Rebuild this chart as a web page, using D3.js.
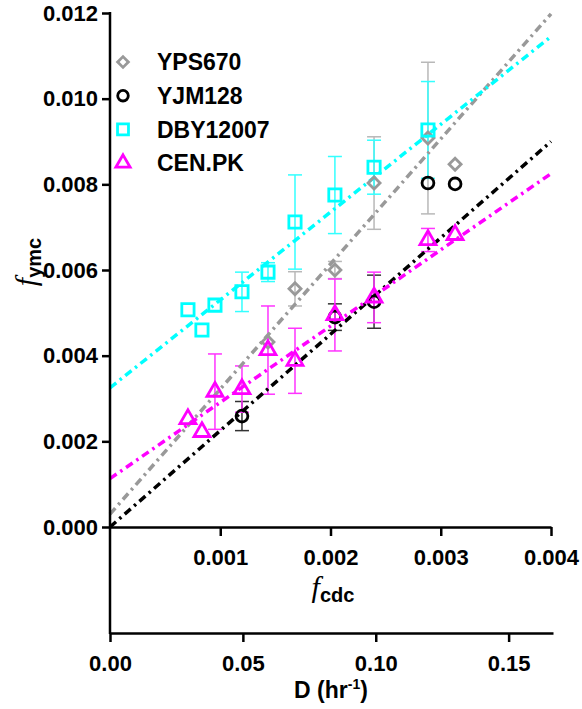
<!DOCTYPE html>
<html>
<head>
<meta charset="utf-8">
<script src="https://cdn.jsdelivr.net/npm/d3@7"></script>
<style>
  body { margin: 0; background: #fff; }
  svg text { font-family: "Liberation Sans", Arial, sans-serif; font-weight: bold; }
  .axis path, .axis line { stroke: #000; stroke-width: 2.5; }
  .axis text { font-size: 22px; fill: #000; }
</style>
</head>
<body>
<div class="chart"></div>
<script>
// f_cdc positions shared by the strains
var fcdc = [0.000707, 0.000834, 0.000952, 0.001197, 0.001433, 0.001678, 0.00204, 0.002395, 0.002884, 0.00313];

var yTicks = [0, 0.002, 0.004, 0.006, 0.008, 0.010, 0.012];
var fTicks = [0.001, 0.002, 0.003, 0.004];
var dTicks = [0, 0.05, 0.10, 0.15];

var names = ['YPS670', 'YJM128', 'DBY12007', 'CEN.PK'];

// YPS670 (grey diamonds)
var ypsX = [0.001433, 0.001678, 0.00204, 0.002395, 0.002884, 0.00313];
var ypsY = [0.00432, 0.00556, 0.0060, 0.00803, 0.00908, 0.00847];
var ypsErr = [0, 0.0004, 0.0002, 0.00108, 0.00177, 0];

// YJM128 (black circles)
var yjmX = [0.001197, 0.00204, 0.002395, 0.002884, 0.00313];
var yjmY = [0.00259, 0.0049, 0.00526, 0.00803, 0.00801];
var yjmErr = [0.00034, 0.00031, 0.00062, 0, 0];

// DBY12007 (cyan squares)
var dbyX = fcdc.slice(0, 9);
var dbyY = [0.00507, 0.0046, 0.00518, 0.00549, 0.00595, 0.00712, 0.00775, 0.0084, 0.00927];
var dbyErr = [0, 0, 0, 0.00046, 0.00022, 0.0011, 0.0009, 0.00063, 0.00113];

// CEN.PK (magenta triangles)
var cenX = fcdc;
var cenY = [0.00252, 0.00222, 0.00316, 0.00322, 0.00413, 0.00388, 0.00495, 0.00536, 0.0067, 0.00682];
var cenErr = [0, 0, 0.00088, 0.00054, 0.00103, 0.00076, 0.00084, 0.00059, 0.00027, 0];

// fitted lines: intercept, slope
var ypsFit = [0.0003, 2.92];
var yjmFit = [0, 2.25];
var dbyFit = [0.00325, 2.05];
var cenFit = [0.00113, 1.78];

var series = [
  { name: names[0], x: ypsX, y: ypsY, err: ypsErr, fit: ypsFit, color: '#999999', bar: '#b8b8b8', symbol: d3.symbolSquare, size: 72, rot: 45 },
  { name: names[1], x: yjmX, y: yjmY, err: yjmErr, fit: yjmFit, color: '#000000', bar: '#333333', symbol: d3.symbolCircle, size: 110, rot: 0 },
  { name: names[2], x: dbyX, y: dbyY, err: dbyErr, fit: dbyFit, color: '#00ffff', bar: '#33ffff', symbol: d3.symbolSquare, size: 150, rot: 0 },
  { name: names[3], x: cenX, y: cenY, err: cenErr, fit: cenFit, color: '#ff00ff', bar: '#ff33ff', symbol: d3.symbolTriangle, size: 110, rot: 0 }
];

var width = 582, height = 709;

var x = d3.scaleLinear().domain([0, 0.004]).range([110, 551]);
var xD = d3.scaleLinear().domain([0, 0.1667]).range([110, 553]);
var y = d3.scaleLinear().domain([0, 0.012]).range([527, 13]);

var svg = d3.select('.chart').append('svg')
    .attr('width', width)
    .attr('height', height);

// error bars
series.forEach(function(s) {
  var g = svg.append('g').attr('stroke', s.bar).attr('stroke-width', 1.5);
  s.x.forEach(function(xv, i) {
    var e = s.err[i];
    if (!e) return;
    var cx = x(xv), y0 = y(s.y[i] - e), y1 = y(s.y[i] + e);
    g.append('line').attr('x1', cx).attr('x2', cx).attr('y1', y0).attr('y2', y1);
    g.append('line').attr('x1', cx - 7).attr('x2', cx + 7).attr('y1', y0).attr('y2', y0);
    g.append('line').attr('x1', cx - 7).attr('x2', cx + 7).attr('y1', y1).attr('y2', y1);
  });
});

// fit lines
var fitLine = d3.line()
  .x(function(d) { return x(d[0]); })
  .y(function(d) { return y(d[1]); });

series.forEach(function(s) {
  var pts = [0, 0.004].map(function(xv) { return [xv, s.fit[0] + s.fit[1] * xv]; });
  svg.append('path')
      .datum(pts)
      .attr('d', fitLine)
      .attr('fill', 'none')
      .attr('stroke', s.color)
      .attr('stroke-width', 3.5)
      .attr('stroke-dasharray', '8,4.5,2.5,4.5');
});

// markers
series.forEach(function(s) {
  var sym = d3.symbol().type(s.symbol).size(s.size);
  svg.append('g').selectAll('path')
      .data(s.x.map(function(xv, i) { return [xv, s.y[i]]; }))
    .enter().append('path')
      .attr('d', sym)
      .attr('transform', function(d) {
        return 'translate(' + x(d[0]) + ',' + y(d[1]) + ') rotate(' + s.rot + ')';
      })
      .attr('fill', 'none')
      .attr('stroke', s.color)
      .attr('stroke-width', 2.8);
});

// axes
var yAxis = svg.append('g')
    .attr('class', 'axis')
    .attr('transform', 'translate(110,0)')
    .call(d3.axisLeft(y).tickValues(yTicks).tickFormat(d3.format('.3f')).tickSize(8).tickPadding(4));
yAxis.select('.domain').remove();
svg.append('line')
    .attr('x1', 110).attr('x2', 110).attr('y1', 12).attr('y2', 634)
    .attr('stroke', '#000').attr('stroke-width', 2.5);

svg.append('g')
    .attr('class', 'axis')
    .attr('transform', 'translate(0,527)')
    .call(d3.axisBottom(x).tickValues(fTicks).tickFormat(d3.format('.3f')).tickSize(9).tickSizeOuter(0).tickPadding(13));

svg.append('g')
    .attr('class', 'axis')
    .attr('transform', 'translate(0,633)')
    .call(d3.axisBottom(xD).tickValues(dTicks).tickFormat(d3.format('.2f')).tickSize(9).tickSizeOuter(0).tickPadding(13));

// axis titles
var yt = svg.append('text')
    .attr('transform', 'translate(36,262) rotate(-90)')
    .attr('text-anchor', 'middle');
yt.append('tspan').text('f')
    .style('font-family', '"Liberation Serif", serif')
    .style('font-style', 'italic').style('font-weight', 'normal').style('font-size', '30px');
yt.append('tspan').text('ymc').attr('dy', 5).style('font-size', '20px');

var xt = svg.append('text')
    .attr('x', 333).attr('y', 597)
    .attr('text-anchor', 'middle');
xt.append('tspan').text('f')
    .style('font-family', '"Liberation Serif", serif')
    .style('font-style', 'italic').style('font-weight', 'normal').style('font-size', '30px');
xt.append('tspan').text('cdc').attr('dy', 5).style('font-size', '20px');

var dt = svg.append('text')
    .attr('x', 331).attr('y', 698)
    .attr('text-anchor', 'middle')
    .style('font-size', '23px');
dt.append('tspan').text('D (hr');
dt.append('tspan').text('-1').attr('dy', -9).style('font-size', '14px');
dt.append('tspan').text(')').attr('dy', 9);

// legend
var legend = svg.append('g').selectAll('g')
    .data(series)
  .enter().append('g')
    .attr('transform', function(d, i) { return 'translate(123,' + (62 + i * 33.7) + ')'; });

legend.append('path')
    .attr('d', function(d) { return d3.symbol().type(d.symbol).size(d.size * 0.8)(); })
    .attr('transform', function(d) { return 'rotate(' + d.rot + ')'; })
    .attr('fill', 'none')
    .attr('stroke', function(d) { return d.color; })
    .attr('stroke-width', 2.8);

legend.append('text')
    .attr('x', 34)
    .attr('dy', '0.36em')
    .style('font-size', '23px')
    .text(function(d) { return d.name; });
</script>
</body>
</html>
